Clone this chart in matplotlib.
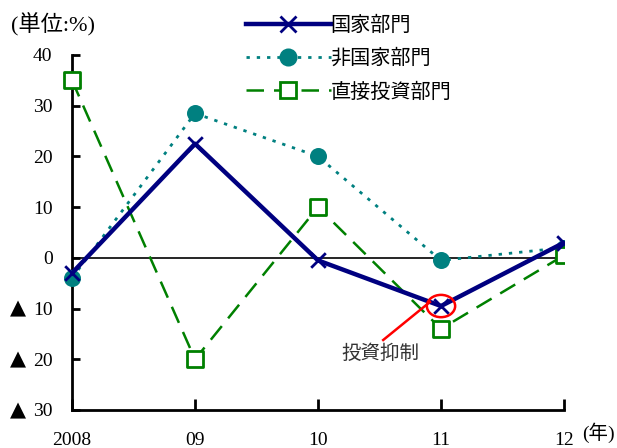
import matplotlib.pyplot as plt
import matplotlib.patches as mpatches
from matplotlib.lines import Line2D
from matplotlib.transforms import Bbox, TransformedBbox

plt.rcParams['font.family'] = ['Noto Sans CJK JP', 'DejaVu Sans']

years = [0, 1, 2, 3, 4]
year_labels = ['2008', '09', '10', '11', '12']
state = [-3, 22.5, -0.5, -9.5, 3]
non_state = [-4, 28.5, 20, -0.5, 2]
fdi = [35, -20, 10, -14, 0.5]
yticks = [40, 30, 20, 10, 0, -10, -20, -30]
ytick_labels = ['40', '30', '20', '10', '0', '10', '20', '30']

fig = plt.figure(figsize=(6.17, 4.48), dpi=100)
ax = fig.add_axes([72 / 617, 1 - 410 / 448, 492 / 617, 355 / 448])
ax.set_xlim(0, 4)
ax.set_ylim(-30, 40)

ax.axhline(0, color='black', lw=1.2, zorder=1)

styles = [
    (state, '国家部門', dict(color='#000080', lw=3.2, ls='-'),
     dict(marker='x', s=110, c='#000080', linewidths=2)),
    (non_state, '非国家部門', dict(color='#008080', lw=2, ls=(0, (1.2, 2.5))),
     dict(marker='o', s=150, c='#008080', linewidths=0)),
    (fdi, '直接投資部門', dict(color='#008000', lw=1.8, ls=(0, (7, 4))),
     dict(marker='s', s=120, facecolors='white', edgecolors='#008000', linewidths=2)),
]

# markers get cut only at the right edge
box = TransformedBbox(Bbox([[-1, -40], [4, 50]]), ax.transData)
handles = []
for i, (vals, name, lkw, mkw) in enumerate(styles):
    ax.plot(years, vals, zorder=3 + (i == 0), **lkw)
    sc = ax.scatter(years, vals, zorder=3 + (i == 0), **mkw)
    sc.set_clip_box(box)
    mk = mkw['marker']
    mfc = mkw.get('facecolors', lkw['color'])
    handles.append(Line2D([], [], marker=mk, ms=11, mfc=mfc, mec=lkw['color'],
                          mew=2, label=name, **lkw))

ax.spines['top'].set_visible(False)
ax.spines['right'].set_visible(False)
for s in ('left', 'bottom'):
    ax.spines[s].set_linewidth(2)

serif = ['Liberation Serif', 'DejaVu Sans']
ax.set_yticks(yticks)
ax.set_yticklabels(ytick_labels, fontsize=14, family=serif)
ax.set_xticks(years)
ax.set_xticklabels(year_labels, fontsize=14, family=serif)
ax.tick_params(axis='y', direction='in', length=6, width=2, pad=14)
ax.tick_params(axis='x', direction='in', length=8, width=2, pad=16)

# negative values are marked with a triangle
for v in yticks:
    if v < 0:
        ax.text(-0.44, v, '▲', fontsize=15, family='DejaVu Sans',
                ha='center', va='center', clip_on=False)

ax.text(-0.5, 46, '(単位:%)', fontsize=16, family=serif + ['Noto Sans CJK JP'],
        ha='left', va='center', clip_on=False)
ax.text(4.15, -34.5, '(年)', fontsize=14, family=serif + ['Noto Sans CJK JP'],
        ha='left', va='center', clip_on=False)

# highlight the 2011 state-sector drop
ax.add_patch(mpatches.Ellipse((3, state[3]), 0.23, 4.4, fill=False,
                              edgecolor='red', lw=1.8, zorder=5))
ax.plot([2.91, 2.53], [-8.7, -16.2], color='red', lw=1.8, zorder=5)
ax.text(2.51, -18.8, '投資抑制', fontsize=14, ha='center', va='center',
        color='#333333')

fig.legend(handles=handles, loc='upper left', bbox_to_anchor=(236 / 617, 0.99),
           frameon=False, fontsize=14.5, handlelength=4.2, labelspacing=0.62,
           handletextpad=0.0, borderaxespad=0.1)

fig.savefig('out.png', dpi=100)
